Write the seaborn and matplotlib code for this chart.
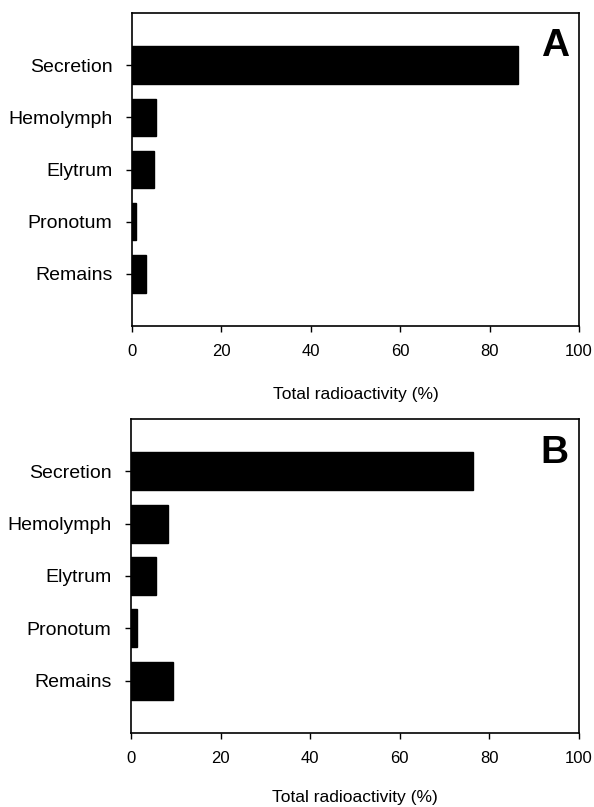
import numpy as np
import pandas as pd
import matplotlib
matplotlib.use("Agg")
import matplotlib.pyplot as plt
import seaborn as sns

tissues = ["Secretion", "Hemolymph", "Elytrum", "Pronotum", "Remains"]
values_a = [86.4, 5.3, 5.0, 1.0, 3.2]
values_b = [76.3, 8.3, 5.6, 1.3, 9.4]
xticks = [0, 20, 40, 60, 80, 100]
panel_labels = ["A", "B"]

sns.set_style("ticks")
plt.rcParams["font.family"] = ["Liberation Sans", "DejaVu Sans"]
plt.rcParams["text.color"] = "black"
plt.rcParams["xtick.color"] = "black"
plt.rcParams["ytick.color"] = "black"
plt.rcParams["axes.labelcolor"] = "black"

fig = plt.figure(figsize=(5.94, 8.07), dpi=100)
ax_a = fig.add_axes([132 / 594, 1 - 326 / 807, 447 / 594, 313 / 807])
ax_b = fig.add_axes([131 / 594, 1 - 733 / 807, 448 / 594, 314 / 807])

for ax, vals, letter, lpad in zip([ax_a, ax_b], [values_a, values_b],
                                  panel_labels, [20, 17]):
    df = pd.DataFrame({"tissue": tissues, "value": vals})
    sns.barplot(data=df, x="value", y="tissue", orient="h", color="black",
                width=0.72, saturation=1, ax=ax, edgecolor="black")
    ax.set_xlim(0, 100)
    ax.set_ylim(5, -1)
    ax.set_xticks(xticks)
    ax.set_xticklabels([str(t) for t in xticks], fontsize=12)
    ax.tick_params(axis="y", labelsize=14, length=4, width=1, pad=10,
                   direction="out", color="black", labelcolor="black")
    ax.tick_params(axis="x", length=4, width=1, pad=9, direction="out",
                   color="black", labelcolor="black")
    ax.set_ylabel("")
    ax.set_xlabel("Total radioactivity (%)", fontsize=12.5, labelpad=lpad,
                  color="black")
    for sp in ax.spines.values():
        sp.set_visible(True)
        sp.set_color("black")
        sp.set_linewidth(1.2)
    # panel letter in the upper right corner
    ax.text(0.977, 0.893, letter, transform=ax.transAxes, ha="right",
            va="center", fontsize=28, fontweight="bold", color="black")

fig.savefig("out.png", dpi=100)
